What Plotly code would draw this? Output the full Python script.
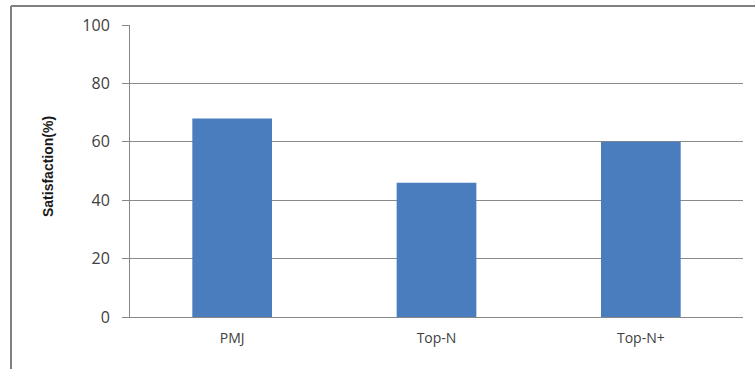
import plotly.graph_objects as go

categories = ["PMJ", "Top-N", "Top-N+"]
satisfaction = [68, 46, 60]
y_ticks = [0, 20, 40, 60, 80, 100]

fig = go.Figure()
fig.add_trace(go.Bar(
    x=categories, y=satisfaction,
    marker=dict(color="#4a7dbd", line=dict(width=0)),
))

W, H = 755, 369
L, R, T, B = 130, 12, 25, 52
pw, ph = W - L - R, H - T - B

def px(x):
    return (x - L) / pw

def py(y):
    return (H - B - y) / ph

fig.update_layout(
    width=W, height=H,
    margin=dict(l=L, r=R, t=T, b=B),
    paper_bgcolor="white", plot_bgcolor="white",
    bargap=0.61,
    showlegend=False,
    font=dict(family="Open Sans, Liberation Sans, sans-serif", color="#404040"),
    xaxis=dict(
        showgrid=False, showline=True, linecolor="#878787", linewidth=1,
        ticks="", tickfont=dict(size=14, color="#404040"),
        ticklabelstandoff=8,
    ),
    yaxis=dict(
        range=[0, 100], tickvals=y_ticks,
        showgrid=True, gridcolor="#8a8a8a", gridwidth=1,
        showline=True, linecolor="#878787", linewidth=1,
        ticks="outside", ticklen=7, tickcolor="#878787",
        tickfont=dict(size=16, color="#404040"),
        zeroline=False, ticklabelstandoff=9,
    ),
    annotations=[dict(
        text="<b>Satisfaction(%)</b>", textangle=-90,
        xref="paper", yref="paper", x=px(48), y=py(167),
        showarrow=False,
        font=dict(size=14, color="#1a1a1a", family="Liberation Sans, Arial, sans-serif"),
        xanchor="center", yanchor="middle",
    )],
    shapes=[
        dict(type="line", xref="paper", yref="paper",
             x0=px(11), x1=px(11), y0=py(372), y1=py(6),
             line=dict(color="#808080", width=2)),
        dict(type="line", xref="paper", yref="paper",
             x0=px(11), x1=px(760), y0=py(6), y1=py(6),
             line=dict(color="#808080", width=2)),
    ],
)

fig.write_html("out.html")
